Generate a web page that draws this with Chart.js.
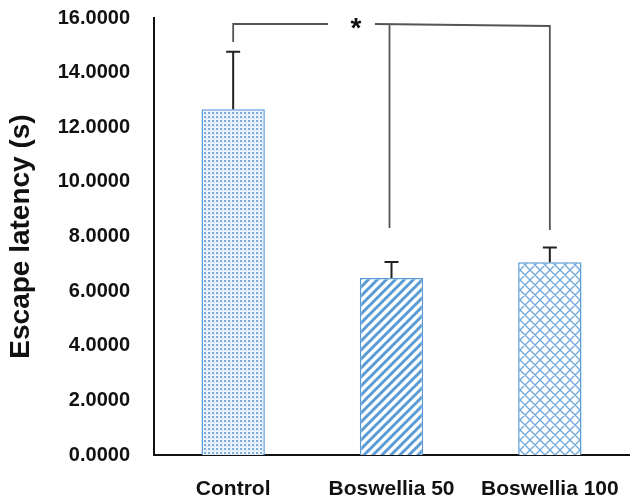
<!DOCTYPE html>
<html>
<head>
<meta charset="utf-8">
<script src="https://cdn.jsdelivr.net/npm/chart.js@4.4.1/dist/chart.umd.min.js"></script>
<style>
html,body{margin:0;padding:0;background:#fff;}
#wrap{width:635px;height:500px;position:relative;}
</style>
</head>
<body>
<div id="wrap"><canvas id="c" width="635" height="500"></canvas></div>
<script>
const categories = ['Control', 'Boswellia 50', 'Boswellia 100'];
const means = [12.66, 6.48, 7.06];
const errors = [2.10, 0.59, 0.54];
const yTicks = [0, 2, 4, 6, 8, 10, 12, 14, 16];
const sigLabel = '*';

const BLUE = '#5B9BD5';
const FONT = '"Liberation Sans", Arial, sans-serif';

function makePattern(kind) {
  const c = document.createElement('canvas');
  const ctx = c.getContext('2d');
  if (kind === 'dots') {
    c.width = 4; c.height = 4;
    ctx.fillStyle = '#eef5fc'; ctx.fillRect(0,0,4,4);
    ctx.fillStyle = '#78abe0';
    ctx.fillRect(0,0,2,2);
    ctx.fillStyle = '#bcd6f1';
    ctx.fillRect(2,2,1,1);
  } else if (kind === 'diag') {
    const s = 9;
    c.width = s; c.height = s;
    ctx.fillStyle = '#fff'; ctx.fillRect(0,0,s,s);
    ctx.strokeStyle = '#5B9BD5'; ctx.lineWidth = 3;
    ctx.beginPath();
    ctx.moveTo(-s, 2*s); ctx.lineTo(2*s, -s);
    ctx.moveTo(-2*s, 2*s); ctx.lineTo(s, -s);
    ctx.moveTo(0, 2*s); ctx.lineTo(3*s, -s);
    ctx.stroke();
  } else {
    const s = 10;
    c.width = s; c.height = s;
    ctx.fillStyle = '#fff'; ctx.fillRect(0,0,s,s);
    ctx.strokeStyle = '#6fa8dc'; ctx.lineWidth = 1.3;
    ctx.beginPath();
    ctx.moveTo(0, 0); ctx.lineTo(s, s);
    ctx.moveTo(-s, 0); ctx.lineTo(0, s);
    ctx.moveTo(s, 0); ctx.lineTo(2*s, s);
    ctx.moveTo(0, s); ctx.lineTo(s, 0);
    ctx.moveTo(-s, s); ctx.lineTo(0, 0);
    ctx.moveTo(s, s); ctx.lineTo(2*s, 0);
    ctx.stroke();
  }
  return document.getElementById('c').getContext('2d').createPattern(c, 'repeat');
}

const fills = [makePattern('dots'), makePattern('diag'), makePattern('cross')];

const overlay = {
  id: 'overlay',
  afterDatasetsDraw(chart) {
    const ctx = chart.ctx;
    const y = chart.scales.y;
    const meta = chart.getDatasetMeta(0);
    ctx.save();
    ctx.strokeStyle = '#222';
    ctx.lineWidth = 2;
    // error bars (upper only)
    means.forEach((m, i) => {
      const cx = meta.data[i].x;
      const yTop = y.getPixelForValue(m + errors[i]);
      const yBar = y.getPixelForValue(m);
      ctx.beginPath();
      ctx.moveTo(cx, yBar); ctx.lineTo(cx, yTop);
      ctx.moveTo(cx - 7, yTop); ctx.lineTo(cx + 7, yTop);
      ctx.stroke();
    });
    // significance bracket
    ctx.strokeStyle = '#555';
    ctx.lineWidth = 1.8;
    const by = y.getPixelForValue(15.78);
    const x0 = meta.data[0].x, x1 = meta.data[1].x - 2, x2 = meta.data[2].x;
    const starX = 356;
    ctx.beginPath();
    ctx.moveTo(x0, y.getPixelForValue(15.12));
    ctx.lineTo(x0, by);
    ctx.lineTo(starX - 28, by);
    ctx.moveTo(starX + 19, by);
    ctx.lineTo(x2, by + 2);
    ctx.lineTo(x2, y.getPixelForValue(8.24));
    ctx.moveTo(x1, by + 1);
    ctx.lineTo(x1, y.getPixelForValue(8.31));
    ctx.stroke();
    ctx.fillStyle = '#111';
    ctx.font = 'bold 28px ' + FONT;
    ctx.textAlign = 'center';
    ctx.textBaseline = 'middle';
    ctx.fillText(sigLabel, starX, by + 5);
    ctx.restore();
  }
};

new Chart(document.getElementById('c'), {
  type: 'bar',
  data: {
    labels: categories,
    datasets: [{
      data: means,
      backgroundColor: fills,
      borderColor: BLUE,
      borderWidth: 1.5,
      barPercentage: 0.4,
      categoryPercentage: 1.0
    }]
  },
  options: {
    responsive: false,
    animation: false,
    events: [],
    layout: { padding: { top: 18, right: 6, left: 0, bottom: 0 } },
    plugins: { legend: { display: false }, tooltip: { enabled: false } },
    scales: {
      x: {
        grid: { display: false, drawTicks: false },
        border: { display: true, color: '#111', width: 2 },
        ticks: {
          color: '#111',
          padding: 22,
          font: { family: FONT, size: 21, weight: 'bold' }
        },
        afterFit(s) { s.height = 45; s.paddingLeft = 0; s.paddingRight = 0; }
      },
      y: {
        min: 0, max: 16,
        afterBuildTicks(s) { s.ticks = yTicks.map(v => ({ value: v })); },
        grid: { display: false, drawTicks: false },
        border: { display: true, color: '#111', width: 2 },
        ticks: {
          color: '#111',
          padding: 24,
          font: { family: FONT, size: 20, weight: 'bold' },
          callback: v => Number(v).toFixed(4)
        },
        title: {
          display: true,
          text: 'Escape latency (s)',
          color: '#111',
          padding: { top: 4, bottom: 0 },
          font: { family: FONT, size: 28, weight: 'bold' }
        },
        afterFit(s) { s.width = 154; s.paddingTop = 0; s.paddingBottom = 0; }
      }
    }
  },
  plugins: [overlay]
});
</script>
</body>
</html>
